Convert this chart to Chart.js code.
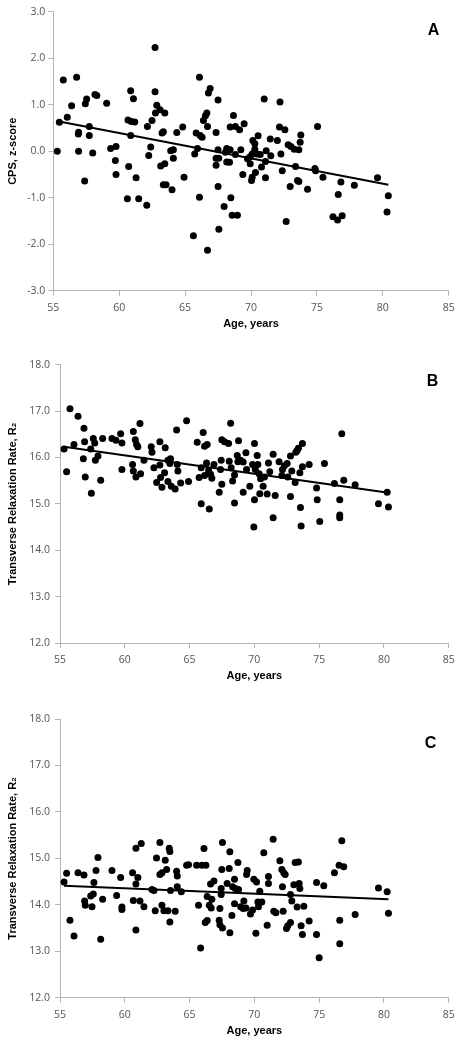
<!DOCTYPE html>
<html>
<head>
<meta charset="utf-8">
<script src="https://cdn.jsdelivr.net/npm/chart.js@4/dist/chart.umd.min.js"></script>
<style>
  html, body { margin: 0; padding: 0; background: #fff; }
  body { width: 463px; height: 1046px; position: relative; overflow: hidden; }
  canvas { position: absolute; left: 0; }
</style>
</head>
<body>
<canvas id="chartA" width="463" height="340" style="top:0px"></canvas>
<canvas id="chartB" width="463" height="350" style="top:340px"></canvas>
<canvas id="chartC" width="463" height="356" style="top:690px"></canvas>
<script>
// ---------------------------------------------
// Data
// ---------------------------------------------
const xTicks = [55, 60, 65, 70, 75, 80, 85];

// Panel A: CPS z-score vs age
const ageA = [55.76,56.77,66.09,66.9,66.77,60.87,61.08,62.72,58.16,58.3,57.53,57.43,59.05,56.39,67.5,71.0,72.2,56.06,55.46,62.85,
  63.1,62.75,63.46,66.65,66.54,66.39,68.67,60.67,60.92,61.18,62.49,62.14,66.7,68.42,68.82,69.13,69.48,64.82,64.37,63.35,
  63.25,56.92,56.9,57.73,57.73,60.87,65.84,66.14,66.29,67.35,72.16,72.57,75.05,73.78,73.73,70.54,70.14,70.29,71.46,72.0,
  72.82,73.03,73.28,73.63,55.3,56.92,57.99,59.35,59.76,62.39,62.24,63.91,64.11,64.11,65.94,65.73,67.5,67.35,67.55,68.16,
  68.06,68.42,68.82,68.16,68.37,69.23,69.73,69.94,70.09,70.29,70.44,70.7,71.15,71.5,72.27,71.1,69.94,70.8,67.35,59.71,
  60.72,63.15,63.46,73.38,72.37,74.85,74.9,75.46,70.34,70.09,70.04,69.38,71.1,59.76,61.28,64.92,57.38,63.35,63.56,64.01,
  67.5,73.53,73.63,72.97,74.29,76.82,77.84,79.6,80.42,76.62,60.62,61.48,62.09,66.09,68.47,67.96,68.57,68.97,72.67,76.22,
  76.57,76.92,80.32,67.56,65.63,66.7,62.72];
const cpsA = [1.53,1.59,1.59,1.35,1.25,1.30,1.13,1.28,1.22,1.20,1.12,1.02,1.03,0.98,1.10,1.12,1.06,0.73,0.62,0.99,
  0.89,0.82,0.82,0.82,0.76,0.66,0.77,0.67,0.64,0.63,0.66,0.53,0.53,0.52,0.53,0.46,0.59,0.52,0.40,0.42,
  0.39,0.41,0.37,0.53,0.34,0.34,0.39,0.34,0.30,0.40,0.52,0.46,0.53,0.35,0.19,0.33,0.23,0.16,0.26,0.23,
  0.14,0.10,0.04,0.03,0.0,0.0,-0.04,0.06,0.10,0.09,-0.09,0.01,0.03,-0.15,0.06,-0.06,0.03,-0.15,-0.15,0.06,
  -0.02,0.03,-0.07,-0.23,-0.24,0.03,-0.16,-0.12,-0.06,0.04,-0.06,-0.07,0.01,-0.10,-0.06,-0.22,-0.27,-0.34,-0.30,-0.20,
  -0.33,-0.32,-0.27,-0.33,-0.42,-0.37,-0.42,-0.56,-0.46,-0.56,-0.63,-0.50,-0.57,-0.50,-0.57,-0.56,-0.64,-0.72,-0.72,-0.83,
  -0.76,-0.63,-0.65,-0.76,-0.82,-0.66,-0.73,-0.57,-0.96,-0.93,-1.02,-1.02,-1.16,-0.99,-1.00,-1.19,-1.38,-1.38,-1.51,-1.41,
  -1.48,-1.39,-1.31,-1.68,-1.82,-2.13,2.23];
const trendAgeA = [55.25, 80.42];
const trendA = [0.65, -0.72];

// Panel B: transverse relaxation rate vs age
const ageB = [55.77,56.39,56.85,56.9,56.08,55.31,55.51,56.8,56.95,57.42,57.37,57.57,57.68,57.73,57.93,58.14,58.29,59.01,59.32,59.68,
  59.78,59.78,60.66,60.81,60.91,61.01,61.17,60.6,60.66,60.86,61.22,61.48,62.04,62.1,62.71,63.12,62.25,62.71,62.46,62.87,
  62.76,63.07,63.33,63.53,63.48,63.33,63.59,63.89,64.05,64.1,64.0,64.31,64.77,64.92,65.59,66.05,66.16,66.36,65.74,65.9,
  66.31,66.47,66.16,66.62,66.72,66.88,65.9,66.52,67.29,67.39,67.44,67.49,67.7,67.49,68.01,68.17,68.06,68.21,68.32,68.47,
  68.47,68.68,68.73,68.78,68.94,69.14,69.14,69.35,69.4,69.65,69.86,69.96,70.01,70.01,70.07,70.22,70.27,70.37,70.42,70.48,
  70.68,70.78,70.99,71.09,71.19,71.45,71.45,71.61,71.91,72.17,72.12,72.32,72.53,72.58,72.79,72.79,72.89,73.15,73.2,73.3,
  73.4,73.51,73.56,73.61,73.71,73.71,74.23,74.8,74.85,75.05,75.41,76.18,76.59,76.59,76.59,76.75,76.9,77.78,79.58,80.25,
  80.35];
const r2B = [17.05,16.89,16.63,16.34,16.28,16.18,15.69,15.97,15.58,15.23,16.18,16.41,16.31,15.94,16.03,15.51,16.41,16.41,16.37,16.51,
  16.31,15.74,16.56,16.38,16.28,16.23,16.73,15.85,15.71,15.58,15.65,15.94,16.23,16.11,16.34,16.21,15.78,15.84,15.46,15.36,
  15.57,15.67,15.94,15.97,15.87,15.48,15.38,15.32,15.85,15.71,16.59,15.45,16.79,15.48,16.33,16.54,16.24,16.28,15.57,15.78,
  15.88,15.72,15.61,15.64,15.55,15.85,15.0,14.89,15.25,15.74,15.94,16.38,16.34,15.42,16.30,16.74,15.92,15.78,15.49,15.62,
  15.02,16.04,15.91,16.36,15.94,15.90,15.25,16.10,15.74,15.38,15.85,14.5,16.30,15.09,15.74,16.04,15.85,15.65,15.22,15.54,
  15.38,15.58,15.21,15.88,15.69,16.07,14.7,15.18,15.91,15.74,15.61,15.82,15.87,15.58,16.03,15.16,15.71,15.46,16.11,16.15,
  16.2,15.67,14.92,14.52,16.30,15.8,15.85,15.34,15.09,14.62,15.87,15.44,15.09,14.76,14.7,16.51,15.51,15.41,15.0,15.25,
  14.93];
const trendAgeB = [55.3, 80.35];
const trendB = [16.23, 15.24];

// Panel C: transverse relaxation rate vs age
const ageC = [55.31,55.51,55.77,56.08,56.39,56.85,56.9,56.95,57.37,57.47,57.57,57.62,57.78,57.93,58.14,58.29,59.01,59.37,59.68,59.78,
  59.78,60.6,60.66,60.86,60.86,61.01,60.86,61.27,61.17,61.48,62.1,62.25,62.35,62.45,62.71,62.71,62.87,62.87,63.02,63.12,
  63.23,63.33,63.43,63.48,63.53,63.48,63.89,64.0,64.05,64.05,64.36,64.77,64.92,65.54,65.69,65.85,65.95,66.11,66.26,66.21,
  66.36,66.36,66.52,66.67,66.62,66.72,66.88,67.29,67.34,67.34,67.44,67.44,67.49,67.54,67.54,67.9,68.11,68.06,68.11,68.27,
  68.32,68.53,68.47,68.47,68.73,68.78,68.94,69.14,69.19,69.35,69.4,69.45,69.7,69.86,69.96,70.12,70.17,70.27,70.32,70.42,
  70.58,70.73,70.99,71.09,71.09,71.45,71.5,71.66,71.97,72.12,72.22,72.27,72.38,72.17,72.48,72.58,72.79,72.79,72.89,73.05,
  73.15,73.3,73.4,73.46,73.51,73.61,73.71,73.82,74.23,74.8,74.8,75.0,75.36,76.18,76.54,76.59,76.59,76.75,76.9,77.78,
  79.58,80.25,80.35];
const r2C = [14.49,14.68,13.67,13.33,14.69,14.64,14.08,13.99,14.19,13.96,14.23,14.48,14.74,15.02,13.26,14.12,14.74,14.2,14.59,13.95,
  13.9,14.69,14.09,14.45,13.46,14.59,15.22,15.32,14.08,13.96,14.33,14.31,13.87,15.01,15.34,14.65,14.69,13.99,13.87,14.96,
  14.76,13.87,15.22,15.15,14.31,13.63,13.86,14.72,14.62,14.39,14.28,14.85,14.86,14.85,13.99,13.07,14.85,15.21,14.85,13.62,
  13.66,14.18,13.99,13.93,14.45,14.12,14.51,13.67,13.92,13.57,14.22,14.35,14.76,15.34,13.5,14.46,15.14,14.78,13.4,13.77,
  14.39,14.35,14.55,14.02,14.91,14.33,13.96,13.92,14.08,13.93,14.65,14.74,13.8,13.89,14.55,13.39,14.49,14.06,13.96,14.29,
  14.06,15.12,13.56,14.61,14.46,15.41,13.86,13.83,14.95,14.76,13.86,14.69,14.65,14.39,13.49,13.55,14.22,13.62,14.08,14.43,
  14.91,13.95,14.92,14.46,14.35,13.55,13.36,13.97,13.65,13.36,14.48,12.86,14.41,14.69,14.85,13.67,13.16,15.38,14.82,13.79,
  14.36,14.28,13.82];
const trendAgeC = [55.3, 80.35];
const trendC = [14.41, 14.12];

// ---------------------------------------------
// Shared styling
// ---------------------------------------------
const AXIS_GREY = '#b4b4b4';
const TICK_FONT = { family: "'Open Sans', sans-serif", size: 10.5 };
const TITLE_FONT = { family: "'Liberation Sans', Arial, sans-serif", size: 11, weight: 'bold' };

// panel letter drawn at a data position
const panelLetter = {
  id: 'panelLetter',
  afterDraw(chart, args, opts) {
    const { ctx, scales } = chart;
    ctx.save();
    ctx.font = "bold 16px 'Liberation Sans', Arial, sans-serif";
    ctx.fillStyle = '#000';
    ctx.textAlign = 'center';
    ctx.textBaseline = 'middle';
    ctx.fillText(opts.text, scales.x.getPixelForValue(opts.x), scales.y.getPixelForValue(opts.y));
    ctx.restore();
  }
};

function toPoints(xs, ys) {
  return xs.map((x, i) => ({ x: x, y: ys[i] }));
}

function makePanel(canvasId, cfg) {
  const ctx = document.getElementById(canvasId).getContext('2d');
  return new Chart(ctx, {
    type: 'scatter',
    data: {
      datasets: [{
        data: toPoints(cfg.xs, cfg.ys),
        backgroundColor: '#000',
        borderColor: '#000',
        borderWidth: 0,
        pointRadius: 3.5,
        pointHoverRadius: 3.5
      }, {
        type: 'line',
        data: toPoints(cfg.trendX, cfg.trendY),
        borderColor: '#000',
        borderWidth: 2,
        pointRadius: 0,
        fill: false,
        tension: 0
      }]
    },
    options: {
      responsive: false,
      animation: false,
      layout: { padding: cfg.padding },
      plugins: {
        legend: { display: false },
        tooltip: { enabled: false },
        panelLetter: cfg.letter
      },
      scales: {
        x: {
          type: 'linear',
          min: 55, max: 85,
          afterBuildTicks: s => { s.ticks = xTicks.map(v => ({ value: v })); },
          afterFit: s => { s.height = 39.6; },
          border: { display: true, color: AXIS_GREY, width: 1 },
          grid: { display: true, drawOnChartArea: false, drawTicks: true, tickLength: 5, color: AXIS_GREY },
          ticks: { font: TICK_FONT, color: '#555', padding: 6, maxRotation: 0 },
          title: { display: true, text: 'Age, years', font: TITLE_FONT, color: '#000', padding: 0 }
        },
        y: {
          type: 'linear',
          min: cfg.yMin, max: cfg.yMax,
          afterBuildTicks: s => { s.ticks = cfg.yTicks.map(v => ({ value: v })); },
          afterFit: s => { s.width = cfg.yWidth; },
          border: { display: true, color: AXIS_GREY, width: 1 },
          grid: { display: true, drawOnChartArea: false, drawTicks: true, tickLength: 5, color: AXIS_GREY },
          ticks: { font: TICK_FONT, color: '#555', padding: cfg.yPad, callback: v => Number(v).toFixed(1) },
          title: { display: true, text: cfg.yTitle, font: TITLE_FONT, color: '#000', padding: 0 }
        }
      }
    },
    plugins: [panelLetter]
  });
}

makePanel('chartA', {
  xs: ageA, ys: cpsA, trendX: trendAgeA, trendY: trendA,
  yMin: -3, yMax: 3, yTicks: [-3, -2, -1, 0, 1, 2, 3],
  yTitle: 'CPS, z-score', yWidth: 47.3, yPad: 3,
  padding: { left: 6, top: 11.7, right: 14.3, bottom: 9.7 },
  letter: { text: 'A', x: 83.85, y: 2.59 }
});

makePanel('chartB', {
  xs: ageB, ys: r2B, trendX: trendAgeB, trendY: trendB,
  yMin: 12, yMax: 18, yTicks: [12, 13, 14, 15, 16, 17, 18],
  yTitle: 'Transverse Relaxation Rate, R\u2082', yWidth: 54, yPad: 5,
  padding: { left: 6, top: 24.7, right: 14.3, bottom: 7.4 },
  letter: { text: 'B', x: 83.76, y: 17.63 }
});

makePanel('chartC', {
  xs: ageC, ys: r2C, trendX: trendAgeC, trendY: trendC,
  yMin: 12, yMax: 18, yTicks: [12, 13, 14, 15, 16, 17, 18],
  yTitle: 'Transverse Relaxation Rate, R\u2082', yWidth: 54, yPad: 5,
  padding: { left: 6, top: 29, right: 14.3, bottom: 8.7 },
  letter: { text: 'C', x: 83.59, y: 17.47 }
});
</script>
</body>
</html>
